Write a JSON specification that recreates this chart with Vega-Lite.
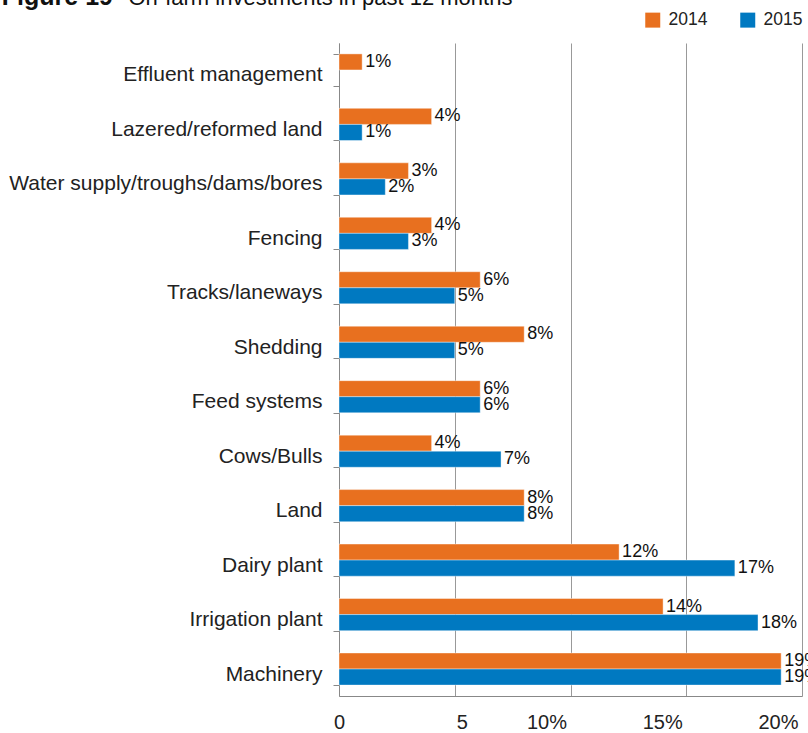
{
  "$schema": "https://vega.github.io/schema/vega-lite/v6.json",
  "width": 463,
  "height": 653,
  "autosize": {"type": "none"},
  "padding": {"left": 339, "top": 43, "right": 6, "bottom": 37},
  "background": "white",
  "title": {
    "text": "Figure 19",
    "anchor": "start",
    "frame": "bounds",
    "font": "Liberation Sans",
    "fontSize": 25,
    "fontWeight": "bold",
    "color": "#111",
    "orient": "top",
    "offset": 0,
    "dy": 24,
    "dx": -7
  },
  "config": {
    "view": {"stroke": null},
    "font": "Liberation Sans"
  },
  "data": {
    "values": [
      {"item": "Effluent management", "year": "2014", "value": 1.0},
      {"item": "Lazered/reformed land", "year": "2014", "value": 4.0},
      {"item": "Lazered/reformed land", "year": "2015", "value": 1.0},
      {"item": "Water supply/troughs/dams/bores", "year": "2014", "value": 3.0},
      {"item": "Water supply/troughs/dams/bores", "year": "2015", "value": 2.0},
      {"item": "Fencing", "year": "2014", "value": 4.0},
      {"item": "Fencing", "year": "2015", "value": 3.0},
      {"item": "Tracks/laneways", "year": "2014", "value": 6.1},
      {"item": "Tracks/laneways", "year": "2015", "value": 5.0},
      {"item": "Shedding", "year": "2014", "value": 8.0},
      {"item": "Shedding", "year": "2015", "value": 5.0},
      {"item": "Feed systems", "year": "2014", "value": 6.1},
      {"item": "Feed systems", "year": "2015", "value": 6.1},
      {"item": "Cows/Bulls", "year": "2014", "value": 4.0},
      {"item": "Cows/Bulls", "year": "2015", "value": 7.0},
      {"item": "Land", "year": "2014", "value": 8.0},
      {"item": "Land", "year": "2015", "value": 8.0},
      {"item": "Dairy plant", "year": "2014", "value": 12.1},
      {"item": "Dairy plant", "year": "2015", "value": 17.1},
      {"item": "Irrigation plant", "year": "2014", "value": 14.0},
      {"item": "Irrigation plant", "year": "2015", "value": 18.1},
      {"item": "Machinery", "year": "2014", "value": 19.1},
      {"item": "Machinery", "year": "2015", "value": 19.1}
    ]
  },
  "transform": [
    {"calculate": "format(datum.value, '.0f') + '%'", "as": "label"}
  ],
  "encoding": {
    "y": {
      "field": "item",
      "type": "nominal",
      "sort": null,
      "scale": {"paddingInner": 0.41, "paddingOuter": 0.2},
      "axis": {
        "title": "On-farm investments in past 12 months",
        "titleAngle": 0,
        "titleAlign": "left",
        "titleBaseline": "alphabetic",
        "titleX": -211,
        "titleY": -39,
        "titleFont": "Liberation Sans",
        "titleFontSize": 22,
        "titleFontWeight": "normal",
        "titleColor": "#111",
        "tickBand": "extent",
        "tickSize": 6,
        "tickColor": "#888",
        "domainColor": "#888",
        "labelFontSize": 21,
        "labelColor": "#222",
        "labelPadding": 11,
        "labelBaseline": "alphabetic",
        "labelOffset": 11,
        "labelLimit": 400
      }
    },
    "yOffset": {"field": "year", "type": "nominal", "scale": {"paddingInner": 0, "paddingOuter": 0}},
    "x": {
      "field": "value",
      "type": "quantitative",
      "scale": {"domain": [0, 20], "nice": false},
      "axis": {
        "title": null,
        "values": [0, 5, 10, 15, 20],
        "labelExpr": "datum.value < 10 ? datum.label : datum.label + '%'",
        "labelFlush": false,
        "grid": true,
        "gridColor": "#999",
        "domainColor": "#888",
        "ticks": false,
        "labelFontSize": 20,
        "labelColor": "#222",
        "labelPadding": 16,
        "labelOffset": {
          "condition": [
            {"test": "datum.value == 5", "value": 7},
            {"test": "datum.value >= 10", "value": -24}
          ],
          "value": 0
        }
      }
    }
  },
  "layer": [
    {
      "mark": {"type": "bar", "stroke": "white", "strokeOpacity": 0.4, "strokeWidth": 1},
      "encoding": {
        "color": {
          "field": "year",
          "type": "nominal",
          "scale": {"domain": ["2014", "2015"], "range": ["#E8701F", "#0079C1"]},
          "legend": {
            "title": null,
            "orient": "none",
            "legendX": 305,
            "legendY": -32,
            "direction": "horizontal",
            "symbolType": "square",
            "symbolSize": 225,
            "symbolStrokeWidth": 0,
            "labelFontSize": 17.5,
            "labelColor": "#222",
            "labelOffset": 7,
            "columnPadding": 31
          }
        }
      }
    },
    {
      "mark": {"type": "text", "align": "left", "baseline": "middle", "dx": 3, "fontSize": 18, "color": "#111"},
      "encoding": {"text": {"field": "label"}}
    }
  ]
}
